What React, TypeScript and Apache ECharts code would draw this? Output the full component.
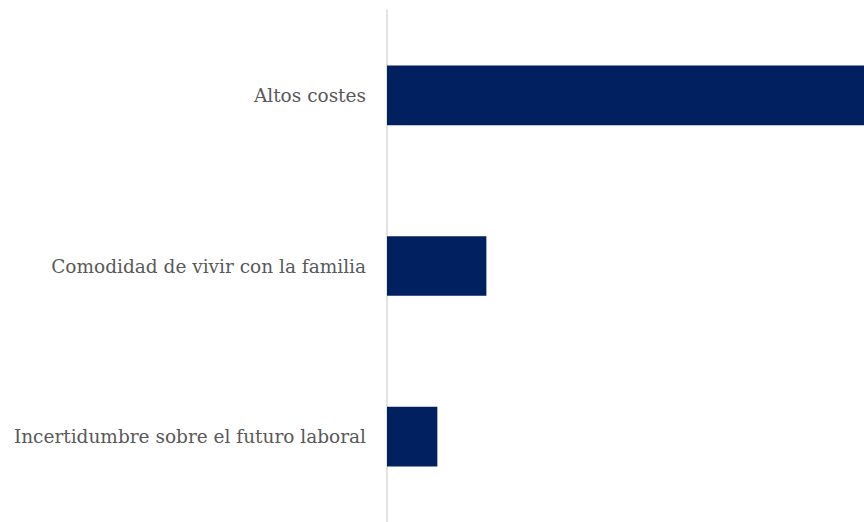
import React, { useEffect, useRef } from "react";
import * as echarts from "echarts";

const categories = [
  "Altos costes",
  "Comodidad de vivir con la familia",
  "Incertidumbre sobre el futuro laboral",
];
const values = [72, 15, 7.6];

export default function App() {
  const ref = useRef<HTMLDivElement>(null);
  useEffect(() => {
    document.body.style.margin = "0";
    const chart = echarts.init(ref.current!, null, { renderer: "svg" });
    chart.setOption({
      animation: false,
      grid: { left: 387, right: 0, top: 10, bottom: -5 },
      xAxis: {
        type: "value",
        min: 0,
        max: 72,
        show: false,
      },
      yAxis: {
        type: "category",
        data: categories,
        inverse: true,
        axisLine: { show: true, lineStyle: { color: "#d9d9d9", width: 1.5 } },
        axisTick: { show: false },
        axisLabel: {
          margin: 21,
          color: "#595959",
          fontFamily: "DejaVu Serif",
          fontSize: 18.5,
        },
      },
      series: [
        {
          type: "bar",
          data: values,
          barWidth: "35%",
          itemStyle: { color: "#002060" },
        },
      ],
    });
    return () => chart.dispose();
  }, []);
  return <div ref={ref} style={{ width: 864, height: 522 }} />;
}
